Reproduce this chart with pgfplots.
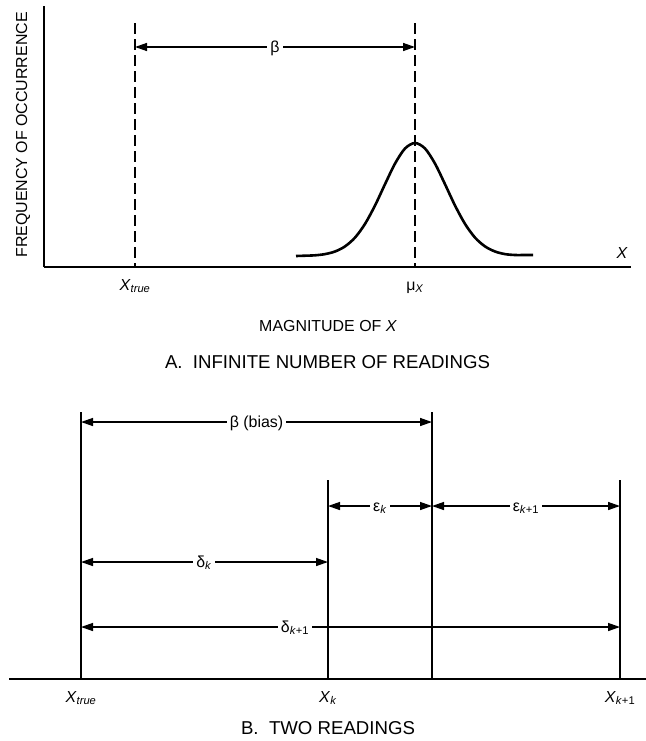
\documentclass[border=0pt]{standalone}
\usepackage{fontspec}
\setmainfont{Liberation Sans}
\usepackage{pgfplots}
\pgfplotsset{compat=1.18}
\usetikzlibrary{arrows.meta}
\newcommand{\lbl}{\fontsize{16}{19}\selectfont}
\newcommand{\ttl}{\fontsize{18.7}{22}\selectfont}
\tikzset{
  dimarrow/.style={black, line width=1.4bp, {Triangle[length=12bp,width=8bp]}-{Triangle[length=12bp,width=8bp]}},
  dimlabel/.style={fill=white, inner xsep=3bp, inner ysep=1bp, anchor=base, yshift=-5bp, font=\lbl},
}
\begin{document}
\begin{tikzpicture}[x=1bp,y=1bp]
\useasboundingbox (0,0) rectangle (646,-741);
% ---------------- Panel A ----------------
\begin{axis}[
  at={(44,-267)}, anchor=south west,
  width=587bp, height=261bp, scale only axis,
  xmin=44, xmax=631, ymin=0, ymax=261,
  axis x line=bottom, axis y line=left,
  axis line style={-, line width=1.8bp},
  xtick={135,415},
  xticklabels={\textit{X}\textsubscript{\textit{true}}, μ\textsubscript{\textit{X}}},
  ytick=\empty,
  major tick length=0pt,
  xticklabel style={anchor=base, yshift=-23bp, font=\lbl},
  xlabel={MAGNITUDE OF \textit{X}},
  xlabel style={at={(axis description cs:0.484,-0.226)}, anchor=center, font=\lbl},
  ylabel={FREQUENCY OF OCCURRENCE},
  ylabel style={at={(axis description cs:-0.0358,0.506)}, anchor=center, font=\lbl},
  title={A.\ \ INFINITE NUMBER OF READINGS},
  title style={at={(axis description cs:0.483,-0.412)}, anchor=base, inner sep=0pt, font=\ttl},
  clip=false,
]
\addplot[black, line width=1.5bp, dash pattern=on 11bp off 5bp] coordinates {(135,244)(135,0)};
\addplot[black, line width=1.5bp, dash pattern=on 11bp off 5bp] coordinates {(415,244)(415,0)};
\addplot[dimarrow] coordinates {(135,220)(415,220)};
\node[dimlabel] at (axis cs:275,220) {β};
\addplot[black, line width=2.6bp, smooth] coordinates {
(296,11.0)(305,11.3)(315,11.7)(325,12.9)(335,15.5)(345,20.6)(355,29.4)(365,43.1)
(375,61.5)(385,82.8)(395,103.4)(405,118.5)(415,124.0)(425,118.5)(435,103.4)
(445,82.8)(455,61.5)(465,43.1)(475,29.4)(485,20.6)(495,15.5)(505,12.9)(515,12.0)
(525,12.0)(533,12.0)};
\node[font=\lbl\itshape, anchor=center] at (axis cs:622,14) {X};
\end{axis}
% ---------------- Panel B ----------------
\begin{axis}[
  at={(9,-679)}, anchor=south west,
  width=637bp, height=267bp, scale only axis,
  xmin=9, xmax=646, ymin=0, ymax=267,
  axis x line=bottom, axis y line=none,
  axis line style={-, line width=1.8bp},
  xtick={81,328,620},
  xticklabels={\textit{X}\textsubscript{\textit{true}}, \textit{X}\textsubscript{\textit{k}}, \textit{X}\textsubscript{\textit{k}+1}},
  ytick=\empty,
  major tick length=0pt,
  xticklabel style={anchor=base, yshift=-23bp, font=\lbl},
  title={B.\ \ TWO READINGS},
  title style={at={(axis description cs:0.5008,-0.230)}, anchor=base, inner sep=0pt, font=\ttl},
  clip=false,
]
\addplot[black, line width=1.6bp] coordinates {(81,0)(81,267)};
\addplot[black, line width=1.6bp] coordinates {(328,0)(328,199)};
\addplot[black, line width=1.6bp] coordinates {(432,0)(432,267)};
\addplot[black, line width=1.6bp] coordinates {(620,0)(620,199)};
\addplot[dimarrow] coordinates {(81,257)(432,257)};
\addplot[dimarrow] coordinates {(328,173)(432,173)};
\addplot[dimarrow] coordinates {(432,173)(620,173)};
\addplot[dimarrow] coordinates {(81,117)(328,117)};
\addplot[dimarrow] coordinates {(81,52)(620,52)};
\node[dimlabel] at (axis cs:256.5,257) {β (bias)};
\node[dimlabel] at (axis cs:380,173) {ε\textsubscript{\textit{k}}};
\node[dimlabel] at (axis cs:526,173) {ε\textsubscript{\textit{k}+1}};
\node[dimlabel] at (axis cs:204,117) {δ\textsubscript{\textit{k}}};
\node[dimlabel] at (axis cs:295,52) {δ\textsubscript{\textit{k}+1}};
\end{axis}
\end{tikzpicture}
\end{document}
